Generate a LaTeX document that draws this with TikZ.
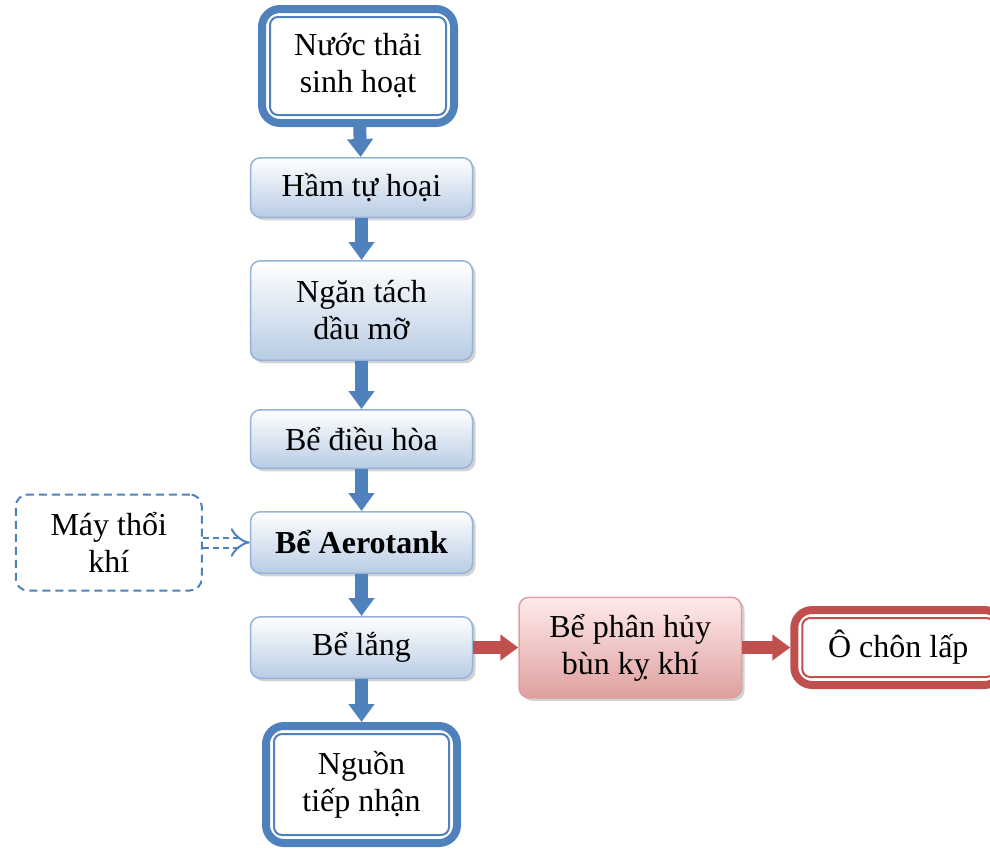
\documentclass[tikz,border=0pt]{standalone}
\usepackage{fontspec}
\setmainfont{Liberation Serif}
\usetikzlibrary{arrows.meta,positioning,shadows}
\definecolor{officeblue}{RGB}{79,129,189}
\definecolor{lightblue}{RGB}{149,179,215}
\definecolor{paleblue}{RGB}{184,204,228}
\definecolor{officered}{RGB}{192,80,77}
\definecolor{palered}{RGB}{222,160,159}
\tikzset{
  stepbox/.style  = {draw=lightblue, line width=0.75pt, rounded corners=5pt, top color=white, bottom color=paleblue, minimum width=111pt, align=center, drop shadow={shadow xshift=1.5pt, shadow yshift=-1.5pt, opacity=0.35}},
  endbox/.style   = {draw=officeblue, line width=4pt, rounded corners=9pt, fill=white, align=center},
  endline/.style  = {draw=officeblue, line width=1pt, rounded corners=4pt},
  redbox/.style   = {draw=palered, line width=0.75pt, rounded corners=5pt, top color=red!8, bottom color=palered, align=center, drop shadow={shadow xshift=1.5pt, shadow yshift=-1.5pt, opacity=0.35}},
  airbox/.style   = {draw=officeblue, line width=1pt, dash pattern=on 4pt off 2.5pt, rounded corners=6pt, align=center},
  flow/.style     = {officeblue, line width=6.5pt, -{Triangle[width=12.5pt,length=9pt]}},
  sludge/.style   = {officered, line width=6.5pt, -{Triangle[width=12.5pt,length=9pt]}},
  air/.style      = {officeblue, line width=1pt, dash pattern=on 3pt off 2pt, double=white, double distance=4pt, -{Implies[length=5pt,width=11pt]}},
}

\begin{document}
\begin{tikzpicture}[font=\fontsize{16}{18.5}\selectfont]
    \useasboundingbox (0,0) rectangle (495pt,-425.5pt);
    \node [endbox, minimum width=96pt, minimum height=57pt] (nuoc) at (179pt,-33pt) {Nước thải\\sinh hoạt};
    \node [stepbox, minimum height=29.75pt, below=15pt of nuoc, xshift=1.75pt] (ham) {Hầm tự hoại};
    \node [stepbox, minimum height=49.75pt, below=21pt of ham] (ngan) {Ngăn tách\\dầu mỡ};
    \node [stepbox, minimum height=29.25pt, below=24pt of ngan] (dieuhoa) {Bể điều hòa};
    \node [stepbox, minimum height=30.75pt, below=21pt of dieuhoa] (aerotank) {\textbf{Bể Aerotank}};
    \node [stepbox, minimum height=30.75pt, below=21pt of aerotank] (lang) {Bể lắng};
    \node [endbox, minimum width=95.5pt, minimum height=58.5pt, below=21.5pt of lang] (nguon) {Nguồn\\tiếp nhận};
    \node [airbox, minimum width=93pt, minimum height=48pt, left=23.5pt of aerotank] (may) {Máy thổi\\khí};
    \node [redbox, minimum width=111.25pt, minimum height=50.25pt, right=22.5pt of lang] (phanhuy) {Bể phân hủy\\bùn kỵ khí};
    \node [endbox, draw=officered, minimum width=104pt, minimum height=37.5pt, right=24pt of phanhuy] (chon) {Ô chôn lấp};

    % inner lines of the end boxes
    \draw [endline] ([shift={(6pt,-6pt)}]nuoc.north west) rectangle ([shift={(-6pt,6pt)}]nuoc.south east);
    \draw [endline] ([shift={(6pt,-6pt)}]nguon.north west) rectangle ([shift={(-6pt,6pt)}]nguon.south east);
    \draw [endline, draw=officered] ([shift={(6pt,-6pt)}]chon.north west) rectangle ([shift={(-6pt,6pt)}]chon.south east);

    \path (nuoc) edge[flow] (ham);
    \path (ham) edge[flow] (ngan);
    \path (ngan) edge[flow] (dieuhoa);
    \path (dieuhoa) edge[flow] (aerotank);
    \path (aerotank) edge[flow] (lang);
    \path (lang) edge[flow] (nguon);
    \path (may) edge[air] (aerotank);
    \path (lang) edge[sludge] (phanhuy);
    \path (phanhuy) edge[sludge] (chon);
\end{tikzpicture}
\end{document}
